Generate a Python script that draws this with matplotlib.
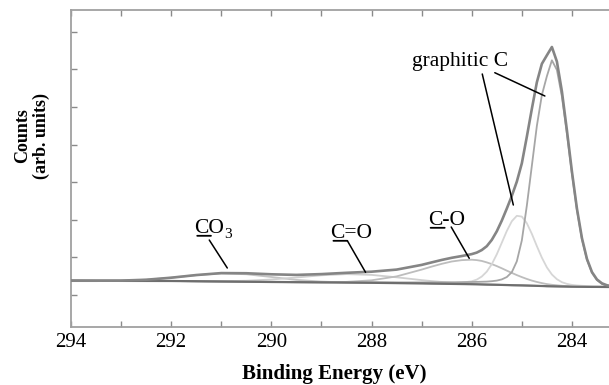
import matplotlib
matplotlib.use("Agg")
import matplotlib.pyplot as plt
import numpy as np

# ---------------- data (binding energy in eV, counts in arb. units) ----------------
energy = [294.0, 293.5, 293.0, 292.5, 292.0, 291.5, 291.0, 290.5, 290.0, 289.5,
          289.0, 288.5, 288.0, 287.5, 287.0, 286.8, 286.6, 286.4, 286.2, 286.0,
          285.9, 285.8, 285.7, 285.6, 285.5, 285.4, 285.3, 285.2, 285.1, 285.0,
          284.9, 284.8, 284.7, 284.6, 284.5, 284.4, 284.3, 284.2, 284.1, 284.0,
          283.9, 283.8, 283.7, 283.6, 283.5, 283.4, 283.3, 283.2]

background = [46.0, 45.9, 45.8, 45.75, 45.7, 45.45, 45.2, 44.95, 44.7, 44.5,
              44.3, 44.1, 43.9, 43.6, 43.3, 43.1, 42.95, 42.8, 42.65, 42.5,
              42.4, 42.25, 42.1, 42.0, 41.9, 41.8, 41.65, 41.5, 41.4, 41.3,
              41.15, 41.0, 40.85, 40.7, 40.5, 40.4, 40.3, 40.2, 40.1, 40.0,
              39.95, 39.9, 39.85, 39.8, 39.8, 39.75, 39.7, 39.7]

peak_co3 = [0.0, 0.1, 0.3, 1.2, 3.3, 6.1, 8.1, 7.5, 5.0, 2.3,
            0.8, 0.2, 0.0, 0.0, 0.0, 0.0, 0.0, 0.0, 0.0, 0.0,
            0.0, 0.0, 0.0, 0.0, 0.0, 0.0, 0.0, 0.0, 0.0, 0.0,
            0.0, 0.0, 0.0, 0.0, 0.0, 0.0, 0.0, 0.0, 0.0, 0.0,
            0.0, 0.0, 0.0, 0.0, 0.0, 0.0, 0.0, 0.0]

peak_c_double_o = [0.0, 0.0, 0.0, 0.0, 0.0, 0.1, 0.3, 1.0, 2.5, 4.7,
                   7.1, 8.5, 7.9, 5.8, 3.3, 2.5, 1.8, 1.2, 0.8, 0.5,
                   0.4, 0.3, 0.2, 0.2, 0.1, 0.0, 0.0, 0.0, 0.0, 0.0,
                   0.0, 0.0, 0.0, 0.0, 0.0, 0.0, 0.0, 0.0, 0.0, 0.0,
                   0.0, 0.0, 0.0, 0.0, 0.0, 0.0, 0.0, 0.0]

peak_c_o = [0.0, 0.0, 0.0, 0.0, 0.0, 0.0, 0.0, 0.0, 0.0, 0.0,
            0.1, 0.7, 2.5, 6.7, 13.8, 17.0, 19.9, 22.4, 23.9, 24.5,
            24.2, 23.5, 22.2, 20.6, 18.7, 16.6, 14.4, 12.3, 10.2, 8.3,
            6.6, 5.1, 3.9, 2.9, 2.1, 1.5, 1.1, 0.7, 0.5, 0.3,
            0.2, 0.1, 0.0, 0.0, 0.0, 0.0, 0.0, 0.0]

peak_c285 = [0.0, 0.0, 0.0, 0.0, 0.0, 0.0, 0.0, 0.0, 0.0, 0.0,
             0.0, 0.0, 0.2, 0.3, 0.4, 0.5, 0.7, 0.9, 1.4, 2.9,
             4.7, 7.9, 13.0, 20.5, 30.5, 42.2, 54.1, 64.0, 69.5, 68.8,
             62.3, 51.8, 39.7, 28.3, 18.8, 11.8, 7.2, 4.3, 2.7, 1.8,
             1.3, 1.0, 0.8, 0.7, 0.6, 0.6, 0.5, 0.5]

peak_graphitic = [0.0, 0.0, 0.0, 0.0, 0.0, 0.0, 0.0, 0.0, 0.2, 0.3,
                  0.3, 0.4, 0.5, 0.7, 1.0, 1.2, 1.4, 1.6, 1.9, 2.2,
                  2.4, 2.7, 3.0, 3.5, 4.2, 5.5, 8.0, 13.0, 24.0, 45.0,
                  80.0, 120.0, 160.0, 191.0, 210.0, 226.0, 216.5, 190.0, 153.0, 113.0,
                  76.6, 47.5, 27.1, 14.1, 6.8, 3.0, 1.2, 0.4]

x_ticks = [294, 293, 292, 291, 290, 289, 288, 287, 286, 285, 284]
x_tick_labels = ["294", "", "292", "", "290", "", "288", "", "286", "", "284"]

# ---------------- figure ----------------
plt.rcParams["font.family"] = ["Liberation Serif", "DejaVu Serif"]

fig = plt.figure(figsize=(6.09, 3.85), dpi=100)
ax = fig.add_axes([71 / 609, 1 - 326.7 / 385, 1 - 71 / 609, (326.7 - 10) / 385])

E = np.array(energy)
bg = np.array(background)
components = [
    (peak_co3, "#c4c4c4"),
    (peak_c_double_o, "#cfcfcf"),
    (peak_c_o, "#bdbdbd"),
    (peak_c285, "#d6d6d6"),
    (peak_graphitic, "#a6a6a6"),
]
for comp, col in components:
    ax.plot(E, bg + np.array(comp), color=col, lw=1.3, zorder=2)

envelope = bg + sum(np.array(c) for c, _ in components)
ax.plot(E, bg, color="#6e6e6e", lw=1.6, zorder=3)
ax.plot(E, envelope, color="#858585", lw=1.9, zorder=4)

ax.set_xlim(294, 283.26)
ax.set_ylim(0, 316.7)
ax.set_xticks(x_ticks)
ax.set_xticklabels(x_tick_labels, fontsize=15)
ax.set_yticks([31.7 + 37.6 * k for k in range(8)])
ax.set_yticklabels([])
ax.tick_params(axis="both", direction="in", length=4, width=1, color="#8a8a8a", pad=4.5)
ax.tick_params(axis="x", top=True)
for side in ["left", "top", "bottom"]:
    ax.spines[side].set_color("#a0a0a0")
    ax.spines[side].set_linewidth(1.3)
ax.spines["right"].set_visible(False)

fig.text(334 / 609, 1 - 374 / 385, "Binding Energy (eV)", ha="center", va="center",
         fontsize=15, fontweight="bold")
fig.text(32 / 609, 1 - 136 / 385, "Counts\n(arb. units)", rotation=90, ha="center",
         va="center", fontsize=13, fontweight="bold", linespacing=1.1)

FS = 15.5


def underline(t, x0, x1):
    ax.annotate("", xy=(x0, 0.1), xytext=(x1, 0.1), xycoords=t, textcoords=t,
                arrowprops=dict(arrowstyle="-", lw=1.3, color="black",
                                shrinkA=0, shrinkB=0))


def leader(x0, y0, x1, y1):
    ax.annotate("", xy=(x1, y1), xytext=(x0, y0),
                arrowprops=dict(arrowstyle="-", lw=1.1, color="black",
                                shrinkA=0, shrinkB=0), zorder=6)


# CO3
t = ax.text(291.54, 94.0, "CO", fontsize=FS, ha="left", va="baseline")
underline(t, 0.10, 0.56)
ax.annotate("3", xy=(1, 0), xycoords=t, xytext=(0.3, -2.5), textcoords="offset points",
            fontsize=11, ha="left", va="bottom")
leader(291.24, 86.7, 290.88, 58.7)

# C=O
t = ax.text(288.82, 89.0, "C=O", fontsize=FS, ha="left", va="baseline")
underline(t, 0.07, 0.40)
leader(288.48, 85.7, 288.12, 54.4)

# C-O
t = ax.text(286.88, 102.0, "C-O", fontsize=FS, ha="left", va="baseline")
underline(t, 0.08, 0.46)
leader(286.41, 99.7, 286.05, 68.4)

# graphitic C
ax.text(287.2, 261.0, "graphitic C", fontsize=FS, ha="left", va="baseline")
leader(285.54, 254.0, 284.54, 230.7)
leader(285.79, 252.7, 285.17, 121.7)

fig.savefig("out.png", dpi=100, facecolor="white")
